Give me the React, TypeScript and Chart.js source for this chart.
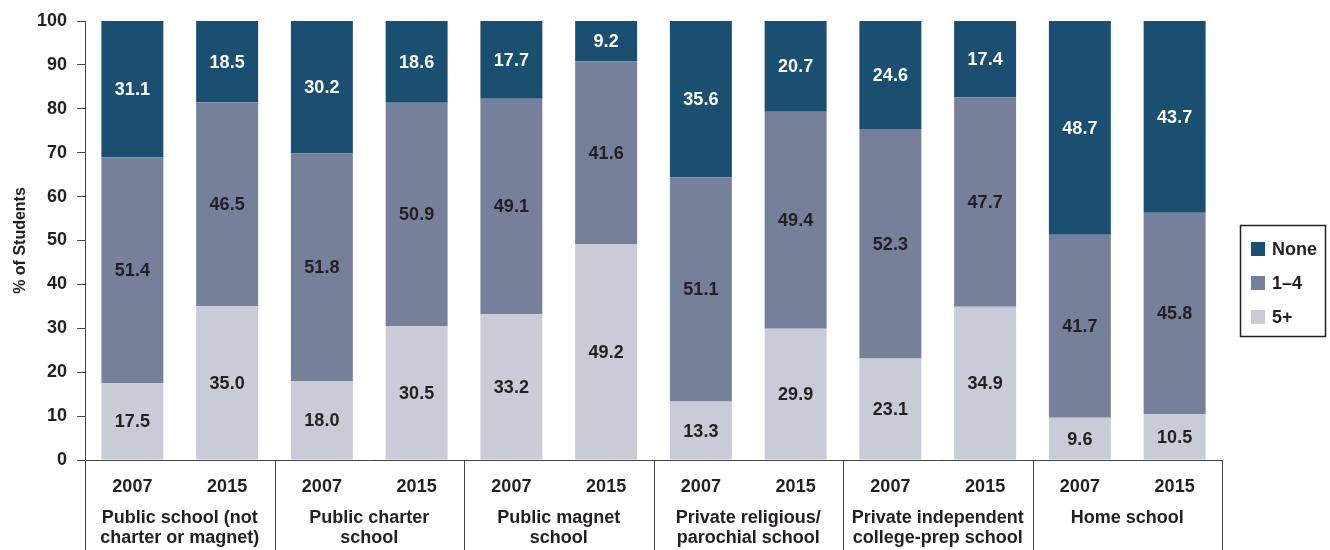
import React, { useEffect, useRef } from "react";
import { Chart, registerables } from "chart.js";

Chart.register(...registerables);

const years = ["2007", "2015", "2007", "2015", "2007", "2015", "2007", "2015", "2007", "2015", "2007", "2015"];
const groups: string[][] = [
  ["Public school (not", "charter or magnet)"],
  ["Public charter", "school"],
  ["Public magnet", "school"],
  ["Private religious/", "parochial school"],
  ["Private independent", "college-prep school"],
  ["Home school"],
];
const fivePlus = [17.5, 35.0, 18.0, 30.5, 33.2, 49.2, 13.3, 29.9, 23.1, 34.9, 9.6, 10.5];
const oneToFour = [51.4, 46.5, 51.8, 50.9, 49.1, 41.6, 51.1, 49.4, 52.3, 47.7, 41.7, 45.8];
const none = [31.1, 18.5, 30.2, 18.6, 17.7, 9.2, 35.6, 20.7, 24.6, 17.4, 48.7, 43.7];
const yTicks = [0, 10, 20, 30, 40, 50, 60, 70, 80, 90, 100];

const C_NONE = "rgb(26,79,114)";
const C_ONE = "rgb(118,128,155)";
const C_FIVE = "rgb(201,204,214)";
const FONT = "'Liberation Sans', Arial, Helvetica, sans-serif";
const TEXT = "#231f20";
const LINE = "#444";

const legendItems = [
  { label: "None", color: C_NONE },
  { label: "1–4", color: C_ONE },
  { label: "5+", color: C_FIVE },
];

const labelsPlugin = {
  id: "segLabels",
  afterDatasetsDraw(chart: any) {
    const ctx = chart.ctx;
    ctx.save();
    ctx.font = `bold 18px ${FONT}`;
    ctx.textAlign = "center";
    ctx.textBaseline = "middle";
    chart.data.datasets.forEach((ds: any, di: number) => {
      const meta = chart.getDatasetMeta(di);
      ctx.fillStyle = ds.label === "None" ? "#ffffff" : TEXT;
      meta.data.forEach((el: any, i: number) => {
        const v = ds.data[i];
        const y = (el.y + el.base) / 2;
        ctx.fillText(v.toFixed(1), el.x, y + 1);
      });
    });
    ctx.restore();
  },
};

const decorPlugin = {
  id: "decor",
  afterDraw(chart: any) {
    const ctx = chart.ctx;
    const xs = chart.scales.x;
    const area = chart.chartArea;
    const H = chart.height;
    ctx.save();
    ctx.strokeStyle = LINE;
    ctx.lineWidth = 1;
    const bounds: number[] = [area.left];
    for (let g = 1; g < groups.length; g++) {
      bounds.push((xs.getPixelForValue(2 * g - 1) + xs.getPixelForValue(2 * g)) / 2);
    }
    bounds.push(area.right);
    ctx.beginPath();
    bounds.forEach((b) => {
      const x = Math.round(b) + 0.5;
      ctx.moveTo(x, area.bottom);
      ctx.lineTo(x, H);
    });
    ctx.stroke();

    // group labels
    ctx.fillStyle = TEXT;
    ctx.font = `bold 18px ${FONT}`;
    ctx.textAlign = "center";
    ctx.textBaseline = "alphabetic";
    groups.forEach((lines, g) => {
      const cx = (xs.getPixelForValue(2 * g) + xs.getPixelForValue(2 * g + 1)) / 2;
      lines.forEach((t, li) => {
        ctx.fillText(t, cx, area.bottom + 62.5 + li * 20);
      });
    });

    // legend
    const lx = 1240.5, ly = 225.5, lw = 85, lh = 111;
    ctx.lineWidth = 1.5;
    ctx.strokeStyle = "#222";
    ctx.strokeRect(lx, ly, lw, lh);
    ctx.textAlign = "left";
    ctx.textBaseline = "middle";
    legendItems.forEach((it, i) => {
      const cy = 249 + i * 34;
      ctx.fillStyle = it.color;
      ctx.fillRect(1251, cy - 7, 14, 14);
      ctx.fillStyle = TEXT;
      ctx.fillText(it.label, 1272, cy + 1);
    });
    ctx.restore();
  },
};

export default function App() {
  const ref = useRef<HTMLCanvasElement | null>(null);
  useEffect(() => {
    if (!ref.current) return;
    const chart = new Chart(ref.current, {
      type: "bar",
      data: {
        labels: years,
        datasets: [
          { label: "5+", data: fivePlus, backgroundColor: C_FIVE },
          { label: "1–4", data: oneToFour, backgroundColor: C_ONE },
          { label: "None", data: none, backgroundColor: C_NONE },
        ],
      },
      options: {
        animation: false,
        responsive: true,
        maintainAspectRatio: false,
        layout: { padding: { top: 21, right: 108, left: 0, bottom: 0 } },
        datasets: { bar: { categoryPercentage: 1, barPercentage: 0.654 } },
        plugins: { legend: { display: false }, tooltip: { enabled: false } },
        scales: {
          x: {
            stacked: true,
            grid: { display: false, drawTicks: false },
            border: { display: true, color: LINE, width: 1 },
            ticks: {
              color: TEXT,
              font: { family: FONT, size: 18, weight: "bold" },
              padding: 16,
              maxRotation: 0,
              autoSkip: false,
            },
            afterFit(scale: any) {
              scale.height = 90;
            },
          },
          y: {
            stacked: true,
            min: 0,
            max: 100,
            afterBuildTicks(scale: any) {
              scale.ticks = yTicks.map((v) => ({ value: v }));
            },
            grid: { drawOnChartArea: false, drawTicks: true, tickLength: 8, color: LINE },
            border: { display: true, color: LINE, width: 1 },
            ticks: {
              color: TEXT,
              font: { family: FONT, size: 18, weight: "bold" },
              padding: 10,
            },
            title: {
              display: true,
              text: "% of Students",
              color: TEXT,
              font: { family: FONT, size: 16, weight: "bold" },
              padding: { top: 11, bottom: 0 },
            },
            afterFit(scale: any) {
              scale.width = 85;
            },
          },
        },
      },
      plugins: [labelsPlugin, decorPlugin],
    });
    return () => chart.destroy();
  }, []);
  return (
    <div style={{ position: "fixed", left: 0, top: 0, width: 1330, height: 550, background: "#fff" }}>
      <canvas ref={ref} />
    </div>
  );
}
